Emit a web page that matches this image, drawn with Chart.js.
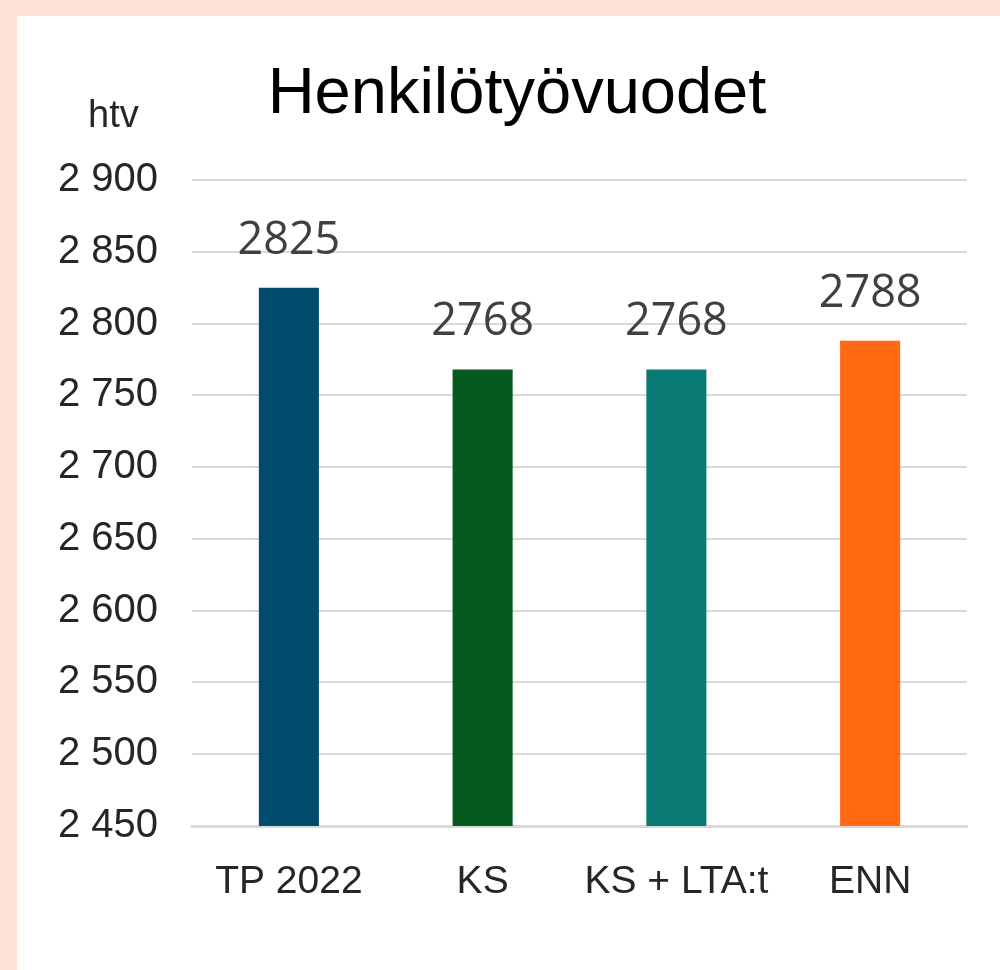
<!DOCTYPE html>
<html lang="fi">
<head>
    <meta charset="UTF-8">
    <title>Henkilötyövuodet</title>
    <script src="https://cdn.jsdelivr.net/npm/chart.js"></script>
    <style>
        html, body { margin: 0; padding: 0; }
        body { width: 1000px; height: 970px; background: #fbe2d5; position: relative; overflow: hidden; }
        #panel { position: absolute; left: 17px; top: 16px; width: 983px; height: 954px; background: #ffffff; }
    </style>
</head>
<body>
    <div id="panel"><canvas id="htvChart" width="983" height="954"></canvas></div>
    <script>
        const categories = ["TP 2022", "KS", "KS + LTA:t", "ENN"];
        const htvValues = [2825, 2768, 2768, 2788];
        const barColors = ["#014c6d", "#04591f", "#0a7a74", "#ff6a13"];
        const yMin = 2450;
        const yMax = 2900;
        const yStep = 50;

        function formatThousands(v) {
            const s = String(Math.round(v));
            return s.length > 3 ? s.slice(0, -3) + " " + s.slice(-3) : s;
        }

        // title, unit text and value labels above bars
        const extraText = {
            id: "extraText",
            afterDatasetsDraw(chart) {
                const ctx = chart.ctx;
                ctx.save();
                ctx.fillStyle = "#000000";
                ctx.font = "65px 'Liberation Sans', Arial, sans-serif";
                ctx.textAlign = "center";
                ctx.textBaseline = "alphabetic";
                ctx.fillText("Henkilötyövuodet", 500, 97);

                ctx.fillStyle = "#262626";
                ctx.font = "38px 'Liberation Sans', Arial, sans-serif";
                ctx.textAlign = "left";
                ctx.fillText("htv", 71, 111);

                ctx.fillStyle = "#404040";
                ctx.font = "45px 'Open Sans', sans-serif";
                ctx.textAlign = "center";
                chart.getDatasetMeta(0).data.forEach((bar, i) => {
                    ctx.fillText(String(htvValues[i]), bar.x, bar.y - 34);
                });
                ctx.restore();
            }
        };

        new Chart(document.getElementById("htvChart"), {
            type: "bar",
            data: {
                labels: categories,
                datasets: [{
                    data: htvValues,
                    backgroundColor: barColors,
                    categoryPercentage: 1,
                    barPercentage: 0.31
                }]
            },
            options: {
                responsive: false,
                animation: false,
                layout: { padding: { top: 164, right: 33, left: 0, bottom: 0 } },
                plugins: {
                    legend: { display: false },
                    title: { display: false },
                    tooltip: { enabled: false }
                },
                scales: {
                    x: {
                        grid: { display: false, drawTicks: false },
                        border: { display: true, color: "#d9d9d9", width: 3 },
                        ticks: {
                            color: "#262626",
                            padding: 33,
                            font: { family: "'Liberation Sans', Arial, sans-serif", size: 39 }
                        },
                        afterFit(scale) { scale.height = 144; }
                    },
                    y: {
                        min: yMin,
                        max: yMax,
                        grid: { color: "#d9d9d9", lineWidth: 2, drawTicks: false },
                        border: { display: false },
                        ticks: {
                            stepSize: yStep,
                            color: "#262626",
                            padding: 34,
                            font: { family: "'Liberation Sans', Arial, sans-serif", size: 40 },
                            callback: (v) => formatThousands(v)
                        },
                        afterFit(scale) { scale.width = 175; }
                    }
                }
            },
            plugins: [extraText]
        });
    </script>
</body>
</html>
